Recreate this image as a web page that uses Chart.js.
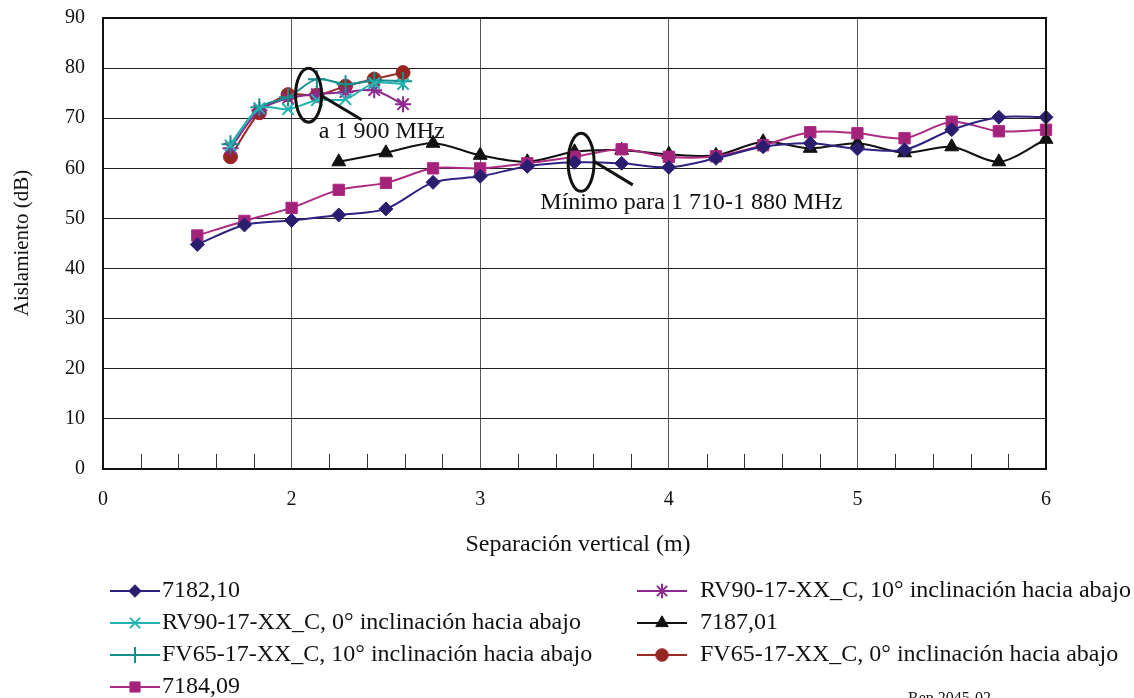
<!DOCTYPE html>
<html>
<head>
<meta charset="utf-8">
<script src="https://cdn.jsdelivr.net/npm/chart.js@4/dist/chart.umd.min.js"></script>
<style>
  html, body { margin: 0; padding: 0; background: #fff; }
  canvas { display: block; }
</style>
</head>
<body>
<canvas id="chart" width="1134" height="698"></canvas>
<script>
"use strict";

// separation (m) for the 7182/7184 series and for the 7187 series
var xMain = [1.5, 1.75, 2, 2.25, 2.5, 2.75, 3, 3.25, 3.5, 3.75, 4, 4.25, 4.5, 4.75, 5, 5.25, 5.5, 5.75, 6];
var x7187 = [2.25, 2.5, 2.75, 3, 3.25, 3.5, 3.75, 4, 4.25, 4.5, 4.75, 5, 5.25, 5.5, 5.75, 6];
// 1 900 MHz measurements, every half foot
var xFeet = [1.676, 1.829, 1.981, 2.134, 2.286, 2.438, 2.591];

var iso7182 = [44.8, 48.7, 49.6, 50.7, 51.9, 57.2, 58.4, 60.4, 61.2, 61.0, 60.2, 62.0, 64.3, 65.0, 63.9, 63.7, 67.7, 70.2, 70.2];
var iso7184 = [46.6, 49.5, 52.1, 55.7, 57.1, 60.0, 60.0, 61.0, 62.3, 63.8, 62.3, 62.4, 64.6, 67.2, 67.0, 66.0, 69.3, 67.4, 67.7];
var iso7187 = [61.3, 63.1, 65.0, 62.6, 61.3, 63.3, 63.6, 62.8, 62.6, 65.3, 64.0, 65.0, 63.1, 64.3, 61.3, 65.8];
var isoRv90_0 = [64.6, 72.0, 71.8, 73.6, 73.8, 77.0, 76.8];
var isoRv90_10 = [64.0, 71.6, 74.0, 74.8, 75.2, 75.6, 72.8];
var isoFv65_10 = [64.8, 72.2, 74.2, 77.8, 76.8, 77.5, 77.4];
var isoFv65_0 = [62.3, 71.1, 74.7, 74.6, 76.4, 77.8, 79.1];

var xTicks = [1, 2, 3, 4, 5, 6];
var xTickLabels = ["0", "2", "3", "4", "5", "6"];

var FONT = "'Liberation Serif', 'Times New Roman', serif";

var toPoints = function(xs, ys) {
    return ys.map(function(y, i) { return {x: xs[i], y: y}; });
};

var series = function(label, xs, ys, color, fill, style, radius, width) {
    return {
        label: label,
        data: toPoints(xs, ys),
        showLine: true,
        borderColor: color,
        backgroundColor: fill,
        borderWidth: 2,
        pointStyle: style,
        pointRadius: radius,
        pointHoverRadius: radius,
        pointBorderColor: color,
        pointBackgroundColor: fill,
        pointBorderWidth: width,
        tension: 0.3,
        clip: false
    };
};

var datasets = [
    series("7182,10", xMain, iso7182, "#2d2380", "#2a1d6e", "rectRot", 7, 1),
    series("RV90-17-XX_C, 0\u00b0 inclinaci\u00f3n hacia abajo", xFeet, isoRv90_0, "#22b3b3", "#22b3b3", "crossRot", 8, 2),
    series("FV65-17-XX_C, 10\u00b0 inclinaci\u00f3n hacia abajo", xFeet, isoFv65_10, "#178f8f", "#178f8f", "cross", 9, 2),
    series("7184,09", xMain, iso7184, "#ad2a82", "#a3237a", "rect", 8, 1),
    series("RV90-17-XX_C, 10\u00b0 inclinaci\u00f3n hacia abajo", xFeet, isoRv90_10, "#8c2a8e", "#8c2a8e", "star", 8, 2),
    series("7187,01", x7187, iso7187, "#111111", "#111111", "triangle", 8, 1),
    series("FV65-17-XX_C, 0\u00b0 inclinaci\u00f3n hacia abajo", xFeet, isoFv65_0, "#9a2a26", "#962622", "circle", 7, 1)
];

// legend: two columns like the original report figure
var legendSlots = [
    {col: 0, row: 0}, {col: 0, row: 1}, {col: 0, row: 2}, {col: 0, row: 3},
    {col: 1, row: 0}, {col: 1, row: 1}, {col: 1, row: 2}
];

var drawMarker = function(ctx, ds, x, y) {
    ctx.save();
    ctx.strokeStyle = ds.pointBorderColor;
    ctx.fillStyle = ds.pointBackgroundColor;
    ctx.lineWidth = ds.pointBorderWidth;
    if (Chart.helpers && Chart.helpers.drawPoint) {
        Chart.helpers.drawPoint(ctx, {
            pointStyle: ds.pointStyle,
            radius: ds.pointRadius * 0.9,
            rotation: 0,
            borderWidth: ds.pointBorderWidth
        }, x, y);
    } else {
        ctx.beginPath();
        ctx.arc(x, y, ds.pointRadius * 0.9, 0, Math.PI * 2);
        ctx.fill();
    }
    ctx.restore();
};

var decorations = {
    id: "decorations",
    beforeDatasetsDraw: function(chart) {
        var ctx = chart.ctx;
        var xs = chart.scales.x;
        var area = chart.chartArea;
        // minor ticks along the bottom axis
        ctx.save();
        ctx.strokeStyle = "#333";
        ctx.lineWidth = 1;
        for (var v = 1.2; v < 6; v += 0.2) {
            if (Math.abs(v - Math.round(v)) < 0.01) continue;
            var px = Math.round(xs.getPixelForValue(v)) + 0.5;
            ctx.beginPath();
            ctx.moveTo(px, area.bottom);
            ctx.lineTo(px, area.bottom - 15);
            ctx.stroke();
        }
        ctx.restore();
    },
    afterDraw: function(chart) {
        var ctx = chart.ctx;
        var xs = chart.scales.x, ys = chart.scales.y;
        var area = chart.chartArea;
        var X = function(v) { return xs.getPixelForValue(v); };
        var Y = function(v) { return ys.getPixelForValue(v); };

        // frame
        ctx.save();
        ctx.strokeStyle = "#111";
        ctx.lineWidth = 2;
        ctx.strokeRect(area.left, area.top, area.right - area.left, area.bottom - area.top);
        ctx.restore();

        // annotations
        ctx.save();
        ctx.strokeStyle = "#111";
        ctx.lineWidth = 3;
        ctx.beginPath();
        ctx.ellipse(X(2.09), Y(74.6), 13, 27, 0, 0, Math.PI * 2);
        ctx.stroke();
        ctx.beginPath();
        ctx.moveTo(X(2.154), Y(74.6));
        ctx.lineTo(X(2.372), Y(69.7));
        ctx.stroke();
        ctx.beginPath();
        ctx.ellipse(X(3.535), Y(61.2), 13, 29, 0, 0, Math.PI * 2);
        ctx.stroke();
        ctx.beginPath();
        ctx.moveTo(X(3.606), Y(61.3));
        ctx.lineTo(X(3.809), Y(56.7));
        ctx.stroke();
        ctx.fillStyle = "#111";
        ctx.font = "24px " + FONT;
        ctx.textAlign = "left";
        ctx.textBaseline = "alphabetic";
        ctx.fillText("a 1 900 MHz", X(2.144), Y(66.1));
        ctx.fillText("M\u00ednimo para 1 710-1 880 MHz", X(3.319), Y(51.9));
        ctx.restore();

        // axis titles
        ctx.save();
        ctx.fillStyle = "#111";
        ctx.textAlign = "center";
        ctx.textBaseline = "middle";
        ctx.font = "24px " + FONT;
        ctx.fillText("Separaci\u00f3n vertical (m)", 578, 545);
        ctx.font = "21px " + FONT;
        ctx.translate(22, 243);
        ctx.rotate(-Math.PI / 2);
        ctx.fillText("Aislamiento (dB)", 0, 0);
        ctx.restore();

        // legend
        ctx.save();
        ctx.font = "24px " + FONT;
        ctx.textAlign = "left";
        ctx.textBaseline = "middle";
        chart.data.datasets.forEach(function(ds, i) {
            var slot = legendSlots[i];
            var x0 = slot.col === 0 ? 110 : 637;
            var y0 = 591 + slot.row * 32;
            ctx.strokeStyle = ds.borderColor;
            ctx.lineWidth = 2;
            ctx.beginPath();
            ctx.moveTo(x0, y0);
            ctx.lineTo(x0 + 50, y0);
            ctx.stroke();
            drawMarker(ctx, ds, x0 + 25, y0);
            ctx.fillStyle = "#111";
            ctx.fillText(ds.label, slot.col === 0 ? 162 : 700, y0);
        });
        ctx.font = "16px " + FONT;
        ctx.fillText("Rep 2045-02", 908, 699);
        ctx.restore();
    }
};

var ctx = document.getElementById("chart").getContext("2d");
var chart = new Chart(ctx, {
    type: "scatter",
    data: {datasets: datasets},
    options: {
        responsive: false,
        animation: false,
        events: [],
        layout: {padding: {top: 18, right: 88, left: 0, bottom: 0}},
        plugins: {
            legend: {display: false},
            tooltip: {enabled: false}
        },
        scales: {
            x: {
                type: "linear",
                min: 1,
                max: 6,
                afterFit: function(scale) {
                    scale.height = 229;
                    scale.paddingLeft = 0;
                    scale.paddingRight = 0;
                },
                afterBuildTicks: function(scale) {
                    scale.ticks = xTicks.map(function(v) { return {value: v}; });
                },
                ticks: {
                    color: "#111",
                    padding: 19,
                    maxRotation: 0,
                    font: {family: FONT, size: 20},
                    callback: function(value) {
                        var i = xTicks.indexOf(value);
                        return i >= 0 ? xTickLabels[i] : "";
                    }
                },
                grid: {color: "#555", lineWidth: 1, drawTicks: false},
                border: {color: "#111", width: 2}
            },
            y: {
                min: 0,
                max: 90,
                afterFit: function(scale) {
                    scale.width = 103;
                    scale.paddingTop = 0;
                    scale.paddingBottom = 0;
                },
                ticks: {
                    stepSize: 10,
                    color: "#111",
                    padding: 18,
                    font: {family: FONT, size: 20}
                },
                grid: {color: "#222", lineWidth: 1, drawTicks: false},
                border: {color: "#111", width: 2}
            }
        }
    },
    plugins: [decorations]
});
</script>
</body>
</html>
